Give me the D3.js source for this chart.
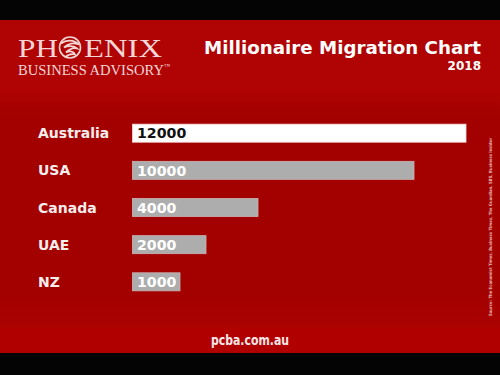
<!DOCTYPE html>
<html><head><meta charset="utf-8">
<script src="https://cdn.jsdelivr.net/npm/d3@7"></script>
<style>html,body{margin:0;padding:0;background:#000;}svg{display:block;}</style>
</head><body>
<script>
const categories = ["Australia", "USA", "Canada", "UAE", "NZ"];
const values = [12000, 10000, 4000, 2000, 1000];
const highlight = ["Australia"];
const title = "Millionaire Migration Chart";
const subtitle = "2018";
const footer = "pcba.com.au";
const source = "Source: The Economist Times, Business Times, The Guardian, SBS, Business Insider";

const W = 500, H = 375;
const svg = d3.select("body").append("svg").attr("width", W).attr("height", H);
const defs = svg.append("defs");
const g1 = defs.append("linearGradient").attr("id","bodyGrad").attr("x1",0).attr("y1",0).attr("x2",0).attr("y2",1);
g1.append("stop").attr("offset","0").attr("stop-color","#b00303");
g1.append("stop").attr("offset","0.12").attr("stop-color","#a30000");
g1.append("stop").attr("offset","0.85").attr("stop-color","#a30000");
g1.append("stop").attr("offset","1").attr("stop-color","#ab0202");

svg.append("rect").attr("x",0).attr("y",0).attr("width",W).attr("height",H).attr("fill","#040404");
svg.append("rect").attr("x",0).attr("y",20).attr("width",W).attr("height",70).attr("fill","#b00303");
svg.append("rect").attr("x",0).attr("y",88).attr("width",W).attr("height",239).attr("fill","url(#bodyGrad)");
svg.append("rect").attr("x",0).attr("y",327).attr("width",W).attr("height",26).attr("fill","#b00000");

// Logo
const serif = "'Liberation Serif','DejaVu Serif',serif";
const logo = svg.append("g").attr("fill","#f3d6d6");
logo.append("text").attr("x",18).attr("y",57).attr("font-family",serif).attr("font-size",26)
  .attr("textLength",40).attr("lengthAdjust","spacingAndGlyphs").text("PH");
logo.append("text").attr("x",84).attr("y",57).attr("font-family",serif).attr("font-size",26)
  .attr("textLength",78).attr("lengthAdjust","spacingAndGlyphs").text("ENIX");
// emblem "O"
const em = svg.append("g").attr("transform","translate(70,47.5)");
em.append("circle").attr("r",10.5).attr("fill","none").attr("stroke","#f3d6d6").attr("stroke-width",1.6);
em.append("path").attr("d","M-9,-4 C-4,-8 4,-8 9,-3 C4,-5 -2,-4 -6,0 C-2,-2 4,-2 7,1 C3,0 -1,2 -4,5 C0,3 4,4 5,7 C1,6 -3,8 -5,10")
  .attr("fill","none").attr("stroke","#f3d6d6").attr("stroke-width",1.8);
logo.append("text").attr("x",18).attr("y",75).attr("font-family",serif).attr("font-size",14)
  .attr("textLength",146).attr("lengthAdjust","spacingAndGlyphs").text("BUSINESS ADVISORY");
logo.append("text").attr("x",164).attr("y",68).attr("font-family",serif).attr("font-size",6).text("™");

// Title
const sans = "'DejaVu Sans','Open Sans',sans-serif";
svg.append("text").attr("x",481).attr("y",54).attr("text-anchor","end").attr("font-family",sans)
  .attr("font-weight","bold").attr("font-size",17.5).attr("fill","#ffffff")
  .attr("textLength",277).attr("lengthAdjust","spacingAndGlyphs").text(title);
svg.append("text").attr("x",481).attr("y",70).attr("text-anchor","end").attr("font-family",sans)
  .attr("font-weight","bold").attr("font-size",12).attr("fill","#ffffff").text(subtitle);

// Scales
const y = d3.scaleBand().domain(categories).range([114.5, 300.5]).paddingInner(0.515).paddingOuter(0.26);
const x = d3.scaleLinear().domain([0, d3.max(values)]).range([154, 466]);
const x0 = 132.5;

const data = categories.map((c,i)=>({c, v: values[i]}));
const rows = svg.append("g").selectAll("g").data(data).join("g");
rows.append("rect")
  .attr("x", x0).attr("y", d=>y(d.c)).attr("width", d=>x(d.v)-x0).attr("height", y.bandwidth())
  .attr("fill", d=>highlight.includes(d.c) ? "#ffffff" : "#adadad")
  .attr("stroke", d=>highlight.includes(d.c) ? "#f4dede" : "#c9b5b5").attr("stroke-width",0.8);
rows.append("text").attr("x",38).attr("y", d=>y(d.c)+y.bandwidth()/2).attr("dy","0.36em")
  .attr("font-family",sans).attr("font-weight","bold").attr("font-size",14).attr("fill","#f7eded")
  .text(d=>d.c);
rows.append("text").attr("x",137).attr("y", d=>y(d.c)+y.bandwidth()/2).attr("dy","0.37em")
  .attr("font-family",sans).attr("font-weight","bold").attr("font-size",14.2)
  .attr("fill", d=>highlight.includes(d.c) ? "#111111" : "#ffffff")
  .text(d=>d3.format("d")(d.v));

// Source (vertical)
svg.append("text").attr("transform","translate(492,316) rotate(-90)")
  .attr("font-family",sans).attr("font-weight","bold").attr("font-size",4.3).attr("fill","#e9b4b4")
  .attr("textLength",178).attr("lengthAdjust","spacingAndGlyphs").text(source);

// Footer
svg.append("text").attr("x",250).attr("y",345).attr("text-anchor","middle").attr("font-family",sans)
  .attr("font-weight","bold").attr("font-size",14).attr("fill","#f6e8e8")
  .attr("textLength",78).attr("lengthAdjust","spacingAndGlyphs").text(footer);
</script>
</body></html>
